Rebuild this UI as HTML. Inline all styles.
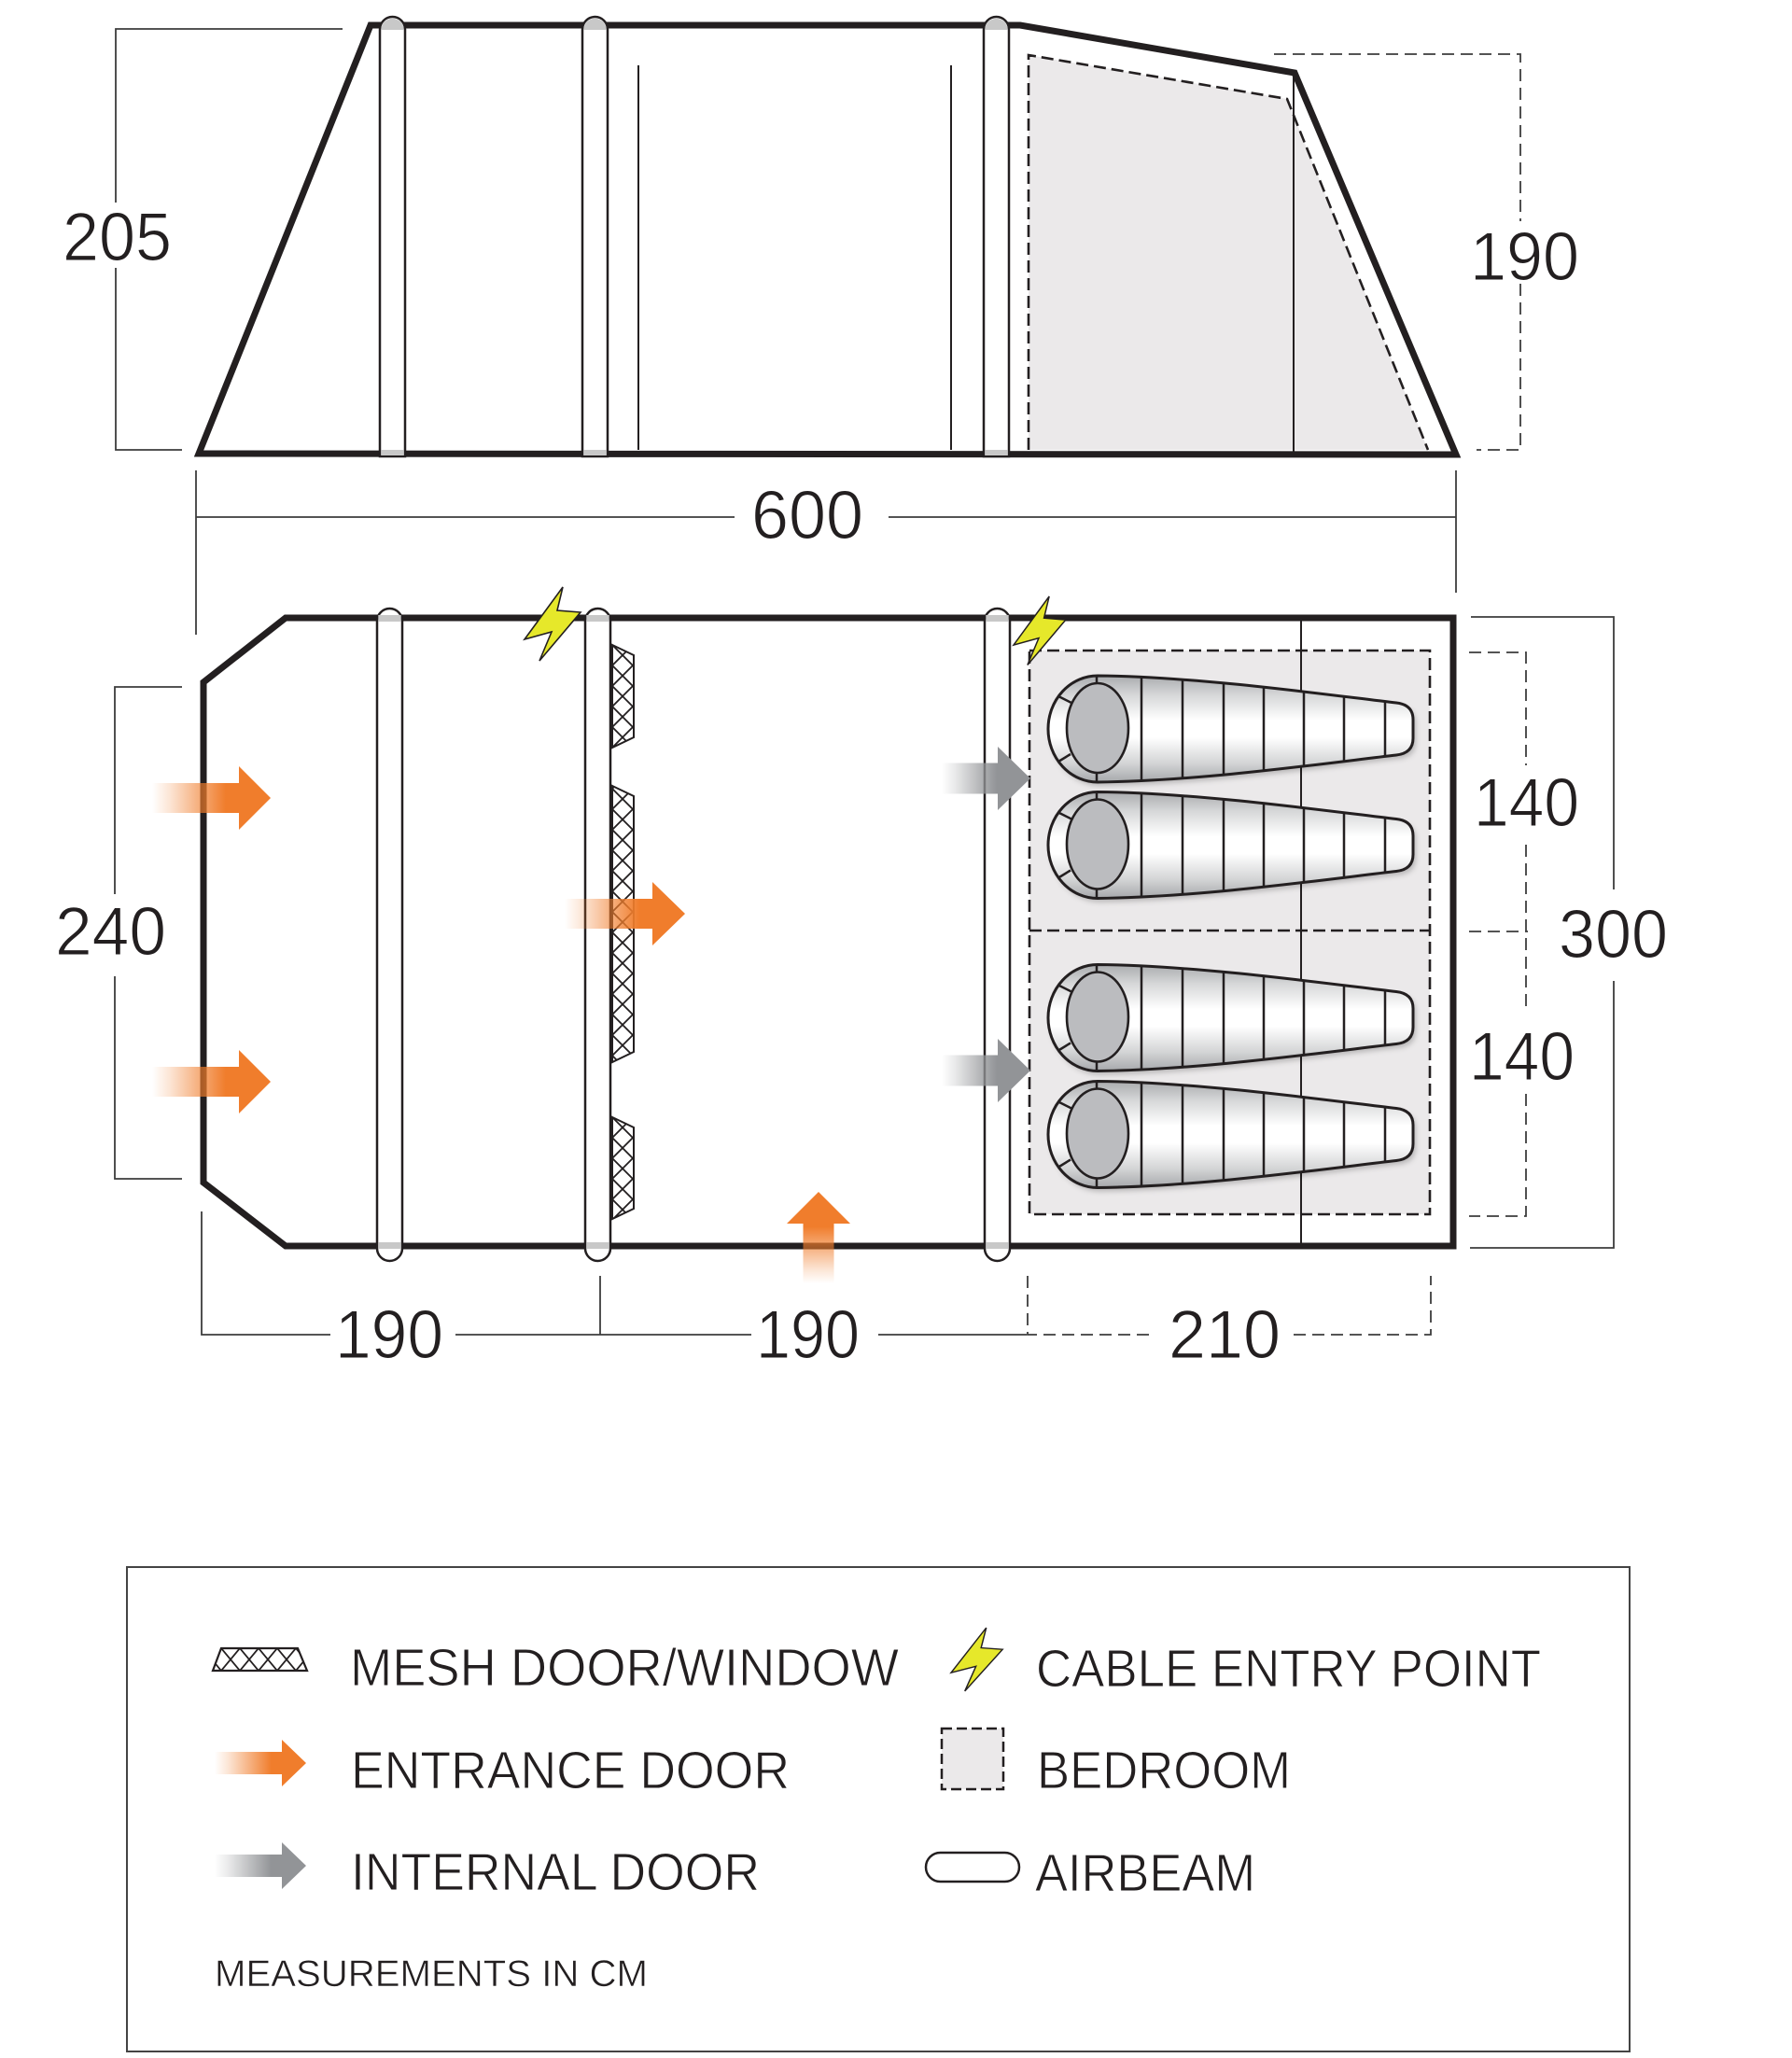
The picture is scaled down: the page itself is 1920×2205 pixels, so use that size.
<!DOCTYPE html>
<html>
<head>
<meta charset="utf-8">
<style>
  html,body{margin:0;padding:0;background:#fff;}
  body{width:1920px;height:2205px;overflow:hidden;}
  svg{display:block;}
  .num{font-family:"Liberation Sans",Arial,sans-serif;font-size:73px;fill:#231f20;stroke:#fff;stroke-width:1.1px;}
  .leg{font-family:"Liberation Sans",Arial,sans-serif;font-size:57px;fill:#231f20;stroke:#fff;stroke-width:0.9px;}
  .legs{font-family:"Liberation Sans",Arial,sans-serif;font-size:40px;fill:#231f20;stroke:#fff;stroke-width:0.6px;}
</style>
</head>
<body>
<svg width="1920" height="2205" viewBox="0 0 1920 2205" xmlns="http://www.w3.org/2000/svg">
  <defs>
    <linearGradient id="og" x1="0" y1="0" x2="1" y2="0">
      <stop offset="0" stop-color="#f07d2c" stop-opacity="0"/>
      <stop offset="0.15" stop-color="#f07d2c" stop-opacity="0.2"/>
      <stop offset="0.62" stop-color="#f07d2c" stop-opacity="1"/>
      <stop offset="1" stop-color="#f07d2c" stop-opacity="1"/>
    </linearGradient>
    <linearGradient id="ogu" x1="0" y1="1" x2="0" y2="0">
      <stop offset="0" stop-color="#f07d2c" stop-opacity="0"/>
      <stop offset="0.15" stop-color="#f07d2c" stop-opacity="0.2"/>
      <stop offset="0.62" stop-color="#f07d2c" stop-opacity="1"/>
      <stop offset="1" stop-color="#f07d2c" stop-opacity="1"/>
    </linearGradient>
    <linearGradient id="gg" x1="0" y1="0" x2="1" y2="0">
      <stop offset="0" stop-color="#929497" stop-opacity="0"/>
      <stop offset="0.15" stop-color="#929497" stop-opacity="0.2"/>
      <stop offset="0.62" stop-color="#929497" stop-opacity="1"/>
      <stop offset="1" stop-color="#929497" stop-opacity="1"/>
    </linearGradient>
    <linearGradient id="bagGrad" x1="0" y1="0" x2="0" y2="1">
      <stop offset="0" stop-color="#a9abae"/>
      <stop offset="0.18" stop-color="#d6d7d8"/>
      <stop offset="0.42" stop-color="#ffffff"/>
      <stop offset="0.58" stop-color="#ffffff"/>
      <stop offset="0.82" stop-color="#d4d5d6"/>
      <stop offset="1" stop-color="#a6a8ab"/>
    </linearGradient>
    <pattern id="mesh" x="656" y="691" width="22" height="22" patternUnits="userSpaceOnUse">
      <rect width="22" height="22" fill="#fff"/>
      <path d="M0,0 L22,22 M22,0 L0,22" stroke="#231f20" stroke-width="1.8"/>
    </pattern>
    <pattern id="meshL" x="237" y="1766" width="20" height="24" patternUnits="userSpaceOnUse">
      <rect width="20" height="24" fill="#fff"/>
      <path d="M0,0 L20,24 M20,0 L0,24" stroke="#231f20" stroke-width="1.8"/>
    </pattern>
    <clipPath id="bagClip">
      <path d="M0,-57 C110,-56 250,-36 320,-28 Q338,-26 338,-10 L338,10 Q338,26 320,28 C250,36 110,56 0,57 A53,57 0 0 1 0,-57 Z"/>
    </clipPath>
    <filter id="sh" x="-10%" y="-30%" width="130%" height="170%">
      <feDropShadow dx="3" dy="4" stdDeviation="3" flood-color="#000" flood-opacity="0.22"/>
    </filter>
    <g id="bag">
      <path d="M0,-57 C110,-56 250,-36 320,-28 Q338,-26 338,-10 L338,10 Q338,26 320,28 C250,36 110,56 0,57 A53,57 0 0 1 0,-57 Z" fill="url(#bagGrad)" filter="url(#sh)"/>
      <g clip-path="url(#bagClip)" stroke="#231f20" stroke-width="2.5">
        <line x1="47" y1="-60" x2="47" y2="60"/>
        <line x1="91" y1="-60" x2="91" y2="60"/>
        <line x1="135" y1="-60" x2="135" y2="60"/>
        <line x1="178" y1="-60" x2="178" y2="60"/>
        <line x1="221" y1="-60" x2="221" y2="60"/>
        <line x1="264" y1="-60" x2="264" y2="60"/>
        <line x1="308" y1="-60" x2="308" y2="60"/>
        <line x1="-1" y1="-60" x2="-1" y2="-46"/>
        <line x1="-1" y1="46" x2="-1" y2="60"/>
        <line x1="-42" y1="-35" x2="-28" y2="-28"/>
        <line x1="-42" y1="35" x2="-29" y2="27"/>
      </g>
      <path d="M0,-57 C110,-56 250,-36 320,-28 Q338,-26 338,-10 L338,10 Q338,26 320,28 C250,36 110,56 0,57 A53,57 0 0 1 0,-57 Z" fill="none" stroke="#231f20" stroke-width="3"/>
      <ellipse cx="0" cy="-1" rx="33" ry="48" fill="#bbbcbf" stroke="#231f20" stroke-width="2.6"/>
    </g>
    <polygon id="bolt" points="603,629 597,654 622,656 578,708 591,677 562,685" fill="#e6e82a" stroke="#231f20" stroke-width="1.6" stroke-linejoin="miter"/>
  </defs>

  <rect width="1920" height="2205" fill="#fff"/>

  <!-- ================= SIDE VIEW ================= -->
  <polygon points="1102,59 1379,106 1530,482 1102,482" fill="#ebe9ea"/>
  <polyline points="1102,482 1102,59 1379,106 1530,482" fill="none" stroke="#231f20" stroke-width="2.6" stroke-dasharray="13 6"/>
  <line x1="1386" y1="78" x2="1386" y2="486" stroke="#231f20" stroke-width="2"/>
  <line x1="684" y1="70" x2="684" y2="482" stroke="#231f20" stroke-width="2"/>
  <line x1="1019" y1="70" x2="1019" y2="482" stroke="#231f20" stroke-width="2"/>
  <polygon points="213,486 397,27 1093,27 1387,78 1560,487" fill="none" stroke="#231f20" stroke-width="7" stroke-linejoin="miter"/>
  <g stroke="#231f20" stroke-width="2.5">
    <path d="M407,489 L407,31.5 A13.5,13.5 0 0 1 434,31.5 L434,489 Z" fill="#fff"/>
    <path d="M624,489 L624,31.5 A13.5,13.5 0 0 1 651,31.5 L651,489 Z" fill="#fff"/>
    <path d="M1054,489 L1054,31.5 A13.5,13.5 0 0 1 1081,31.5 L1081,489 Z" fill="#fff"/>
  </g>
  <g fill="#c8c8c8">
    <path d="M408.3,32 A12.2,12.2 0 0 1 432.7,32 Z"/>
    <rect x="408.3" y="482" width="24.4" height="6"/>
    <path d="M625.3,32 A12.2,12.2 0 0 1 649.7,32 Z"/>
    <rect x="625.3" y="482" width="24.4" height="6"/>
    <path d="M1055.3,32 A12.2,12.2 0 0 1 1079.7,32 Z"/>
    <rect x="1055.3" y="482" width="24.4" height="6"/>
  </g>

  <g stroke="#3c3c3c" stroke-width="1.8" fill="none">
    <polyline points="367,31 124,31 124,217"/>
    <polyline points="124,287 124,482 195,482"/>
    <line x1="210" y1="554" x2="787" y2="554"/>
    <line x1="952" y1="554" x2="1560" y2="554"/>
    <line x1="210" y1="504" x2="210" y2="680"/>
    <line x1="1560" y1="504" x2="1560" y2="635"/>
  </g>
  <g stroke="#3c3c3c" stroke-width="1.8" fill="none" stroke-dasharray="13 7">
    <polyline points="1365,58 1629,58 1629,237"/>
    <polyline points="1629,304 1629,482 1582,482"/>
  </g>
  <text class="num" x="67" y="279" textLength="117" lengthAdjust="spacingAndGlyphs">205</text>
  <text class="num" x="1575" y="300" textLength="117" lengthAdjust="spacingAndGlyphs">190</text>
  <text class="num" x="805" y="577" textLength="120" lengthAdjust="spacingAndGlyphs">600</text>

  <!-- ================= FLOOR PLAN ================= -->
  <rect x="1103" y="697" width="429" height="604" fill="#ebe9ea"/>
  <rect x="1103" y="697" width="429" height="604" fill="none" stroke="#231f20" stroke-width="2.6" stroke-dasharray="13 6"/>
  <line x1="1103" y1="997" x2="1532" y2="997" stroke="#231f20" stroke-width="2.6" stroke-dasharray="13 6"/>
  <line x1="1394" y1="662" x2="1394" y2="1335" stroke="#231f20" stroke-width="2"/>
  <polygon points="306,662 1557,662 1557,1335 306,1335 218,1267 218,731" fill="none" stroke="#231f20" stroke-width="7" stroke-linejoin="miter"/>

  <g stroke="#231f20" stroke-width="2.5" fill="#fff">
    <rect x="404" y="652" width="27" height="699" rx="13.5" ry="13.5"/>
    <rect x="627" y="652" width="27" height="699" rx="13.5" ry="13.5"/>
    <rect x="1055" y="652" width="27" height="699" rx="13.5" ry="13.5"/>
  </g>
  <g fill="#c8c8c8">
    <rect x="405.3" y="659" width="24.4" height="7"/>
    <rect x="405.3" y="1331" width="24.4" height="7"/>
    <rect x="628.3" y="659" width="24.4" height="7"/>
    <rect x="628.3" y="1331" width="24.4" height="7"/>
    <rect x="1056.3" y="659" width="24.4" height="7"/>
    <rect x="1056.3" y="1331" width="24.4" height="7"/>
  </g>

  <g stroke="#231f20" stroke-width="2" fill="url(#mesh)">
    <polygon points="656,691 679,702 679,790 656,801"/>
    <polygon points="656,842 679,853 679,1127 656,1138"/>
    <polygon points="656,1197 679,1208 679,1295 656,1306"/>
  </g>

  <use href="#bag" transform="translate(1176,781)"/>
  <use href="#bag" transform="translate(1176,905.5)"/>
  <use href="#bag" transform="translate(1176,1090.5)"/>
  <use href="#bag" transform="translate(1176,1215.5)"/>

  <polygon points="163,839 256,839 256,821 290,855 256,889 256,871 163,871" fill="url(#og)"/>
  <polygon points="163,1143 256,1143 256,1125 290,1159 256,1193 256,1175 163,1175" fill="url(#og)"/>
  <polygon points="605,963 699,963 699,945 734,979 699,1013 699,995 605,995" fill="url(#og)"/>
  <polygon points="860.5,1375 860.5,1311 843,1311 877,1277 911,1311 893.5,1311 893.5,1375" fill="url(#ogu)"/>
  <polygon points="1009,817.5 1069,817.5 1069,800 1104,834 1069,868 1069,850.5 1009,850.5" fill="url(#gg)"/>
  <polygon points="1009,1130.5 1069,1130.5 1069,1113 1104,1147 1069,1181 1069,1163.5 1009,1163.5" fill="url(#gg)"/>

  <use href="#bolt"/>
  <use href="#bolt" transform="translate(1086,639) scale(0.93,0.93) translate(-562,-629)"/>

  <g stroke="#3c3c3c" stroke-width="1.8" fill="none">
    <polyline points="195,736 123,736 123,958"/>
    <polyline points="123,1046 123,1263 195,1263"/>
    <polyline points="1576,661 1729,661 1729,953"/>
    <polyline points="1729,1051 1729,1337 1575,1337"/>
    <polyline points="216,1298 216,1430 354,1430"/>
    <line x1="488" y1="1430" x2="805" y2="1430"/>
    <line x1="643" y1="1367" x2="643" y2="1430"/>
    <line x1="941" y1="1430" x2="1100" y2="1430"/>
  </g>
  <g stroke="#3c3c3c" stroke-width="1.8" fill="none" stroke-dasharray="13 7">
    <polyline points="1574,699 1635,699 1635,820"/>
    <line x1="1635" y1="905" x2="1635" y2="1083"/>
    <line x1="1574" y1="998" x2="1637" y2="998"/>
    <polyline points="1635,1172 1635,1303 1574,1303"/>
    <polyline points="1101,1367 1101,1430 1238,1430"/>
    <polyline points="1386,1430 1533,1430 1533,1367"/>
  </g>
  <text class="num" x="59" y="1023" textLength="119" lengthAdjust="spacingAndGlyphs">240</text>
  <text class="num" x="1579" y="885" textLength="113" lengthAdjust="spacingAndGlyphs">140</text>
  <text class="num" x="1670" y="1026" textLength="117" lengthAdjust="spacingAndGlyphs">300</text>
  <text class="num" x="1574" y="1157" textLength="113" lengthAdjust="spacingAndGlyphs">140</text>
  <text class="num" x="359" y="1455" textLength="116" lengthAdjust="spacingAndGlyphs">190</text>
  <text class="num" x="810" y="1455" textLength="111" lengthAdjust="spacingAndGlyphs">190</text>
  <text class="num" x="1252" y="1455" textLength="120" lengthAdjust="spacingAndGlyphs">210</text>

  <!-- ================= LEGEND ================= -->
  <rect x="136" y="1679" width="1610" height="519" fill="none" stroke="#444" stroke-width="2"/>
  <polygon points="237,1766 319,1766 329,1790 228,1790" fill="url(#meshL)" stroke="#231f20" stroke-width="2.2"/>
  <polygon points="230,1877 302,1877 302,1864 328,1889 302,1914 302,1901 230,1901" fill="url(#og)"/>
  <polygon points="230,1987 302,1987 302,1974 328,1999 302,2024 302,2011 230,2011" fill="url(#gg)"/>
  <use href="#bolt" transform="translate(1019,1744) scale(0.92,0.86) translate(-562,-629)"/>
  <rect x="1009" y="1852" width="66" height="65" fill="#ebe9ea" stroke="#231f20" stroke-width="2.5" stroke-dasharray="11 5"/>
  <rect x="992" y="1985" width="100" height="31" rx="15.5" ry="15.5" fill="#fff" stroke="#231f20" stroke-width="2.5"/>

  <text class="leg" x="375" y="1806" textLength="588" lengthAdjust="spacingAndGlyphs">MESH DOOR/WINDOW</text>
  <text class="leg" x="376" y="1916" textLength="470" lengthAdjust="spacingAndGlyphs">ENTRANCE DOOR</text>
  <text class="leg" x="376" y="2025" textLength="438" lengthAdjust="spacingAndGlyphs">INTERNAL DOOR</text>
  <text class="legs" x="230" y="2128" textLength="464" lengthAdjust="spacingAndGlyphs">MEASUREMENTS IN CM</text>
  <text class="leg" x="1110" y="1807" textLength="541" lengthAdjust="spacingAndGlyphs">CABLE ENTRY POINT</text>
  <text class="leg" x="1111" y="1916" textLength="272" lengthAdjust="spacingAndGlyphs">BEDROOM</text>
  <text class="leg" x="1109" y="2026" textLength="236" lengthAdjust="spacingAndGlyphs">AIRBEAM</text>
</svg>
</body>
</html>
